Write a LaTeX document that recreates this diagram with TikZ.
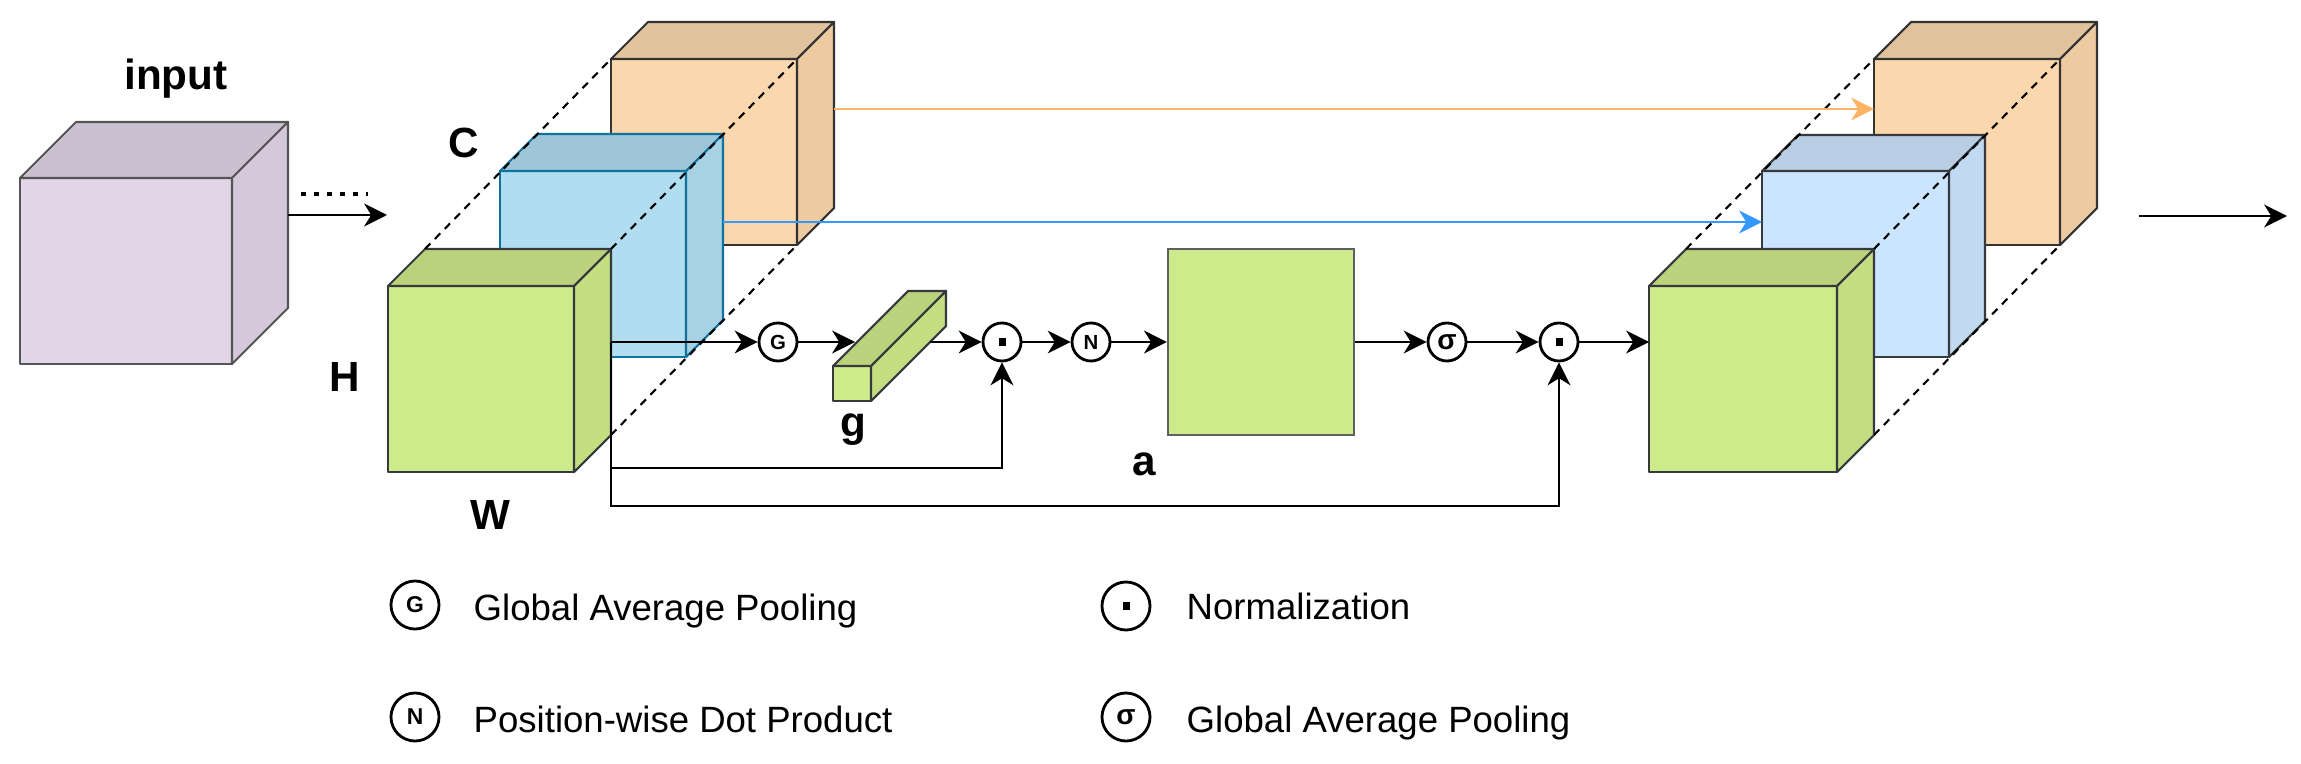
\documentclass[tikz,border=0pt]{standalone}
\usepackage{fontspec}
\setmainfont{Liberation Sans}
\usetikzlibrary{arrows.meta}
\definecolor{purF}{HTML}{E1D5E7}
\definecolor{purT}{HTML}{CBC0D1}
\definecolor{purS}{HTML}{D5C8DB}
\definecolor{purD}{HTML}{555555}
\definecolor{grF}{HTML}{CDEB8B}
\definecolor{grT}{HTML}{BAD27C}
\definecolor{grS}{HTML}{C2DE80}
\definecolor{grD}{HTML}{36393D}
\definecolor{bluF}{HTML}{B1DDF0}
\definecolor{bluT}{HTML}{9EC6D8}
\definecolor{bluS}{HTML}{A8D1E4}
\definecolor{bluD}{HTML}{10739E}
\definecolor{orF}{HTML}{FAD7AC}
\definecolor{orT}{HTML}{E0C29C}
\definecolor{orS}{HTML}{EDCA9F}
\definecolor{orD}{HTML}{333333}
\definecolor{lbF}{HTML}{CCE5FF}
\definecolor{lbT}{HTML}{B8CEE5}
\definecolor{lbS}{HTML}{C1D9F1}
\definecolor{orArr}{HTML}{FFB366}
\definecolor{blArr}{HTML}{3399FF}

\begin{document}
\begin{tikzpicture}[x=0.01cm,y=-0.01cm]
   \useasboundingbox (0,0) rectangle (2301,764);

    \tikzstyle{op}=[draw,circle,line width=0.8pt,minimum size=0.38cm,inner sep=0pt,font=\bfseries\fontsize{5.8}{6}\selectfont]
    \tikzstyle{keyop}=[op,minimum size=0.48cm,font=\bfseries\fontsize{6.5}{7}\selectfont]
    \tikzstyle{arr}=[line width=0.65pt,-{Stealth[length=6.5pt,width=6.5pt,inset=2pt]}]
    \tikzstyle{lbl}=[inner sep=0pt,font=\bfseries\fontsize{12}{14}\selectfont]
    \tikzstyle{keytext}=[inner sep=0pt,anchor=base west,font=\fontsize{10.4}{12}\selectfont]
    \tikzstyle{guide}=[line width=0.6pt,dash pattern=on 2.2pt off 1.8pt]

    % front top-left x, y, width, height, depth, front, top, side, line
    \def\cube#1#2#3#4#5#6#7#8#9{
      \filldraw[fill=#6,draw=#9,line width=0.6pt,line join=round] (#1,#2) rectangle ({#1+#3},{#2+#4});
      \filldraw[fill=#7,draw=#9,line width=0.6pt,line join=round] (#1,#2)--({#1+#5},{#2-#5})--({#1+#3+#5},{#2-#5})--({#1+#3},#2)--cycle;
      \filldraw[fill=#8,draw=#9,line width=0.6pt,line join=round] ({#1+#3},#2)--({#1+#3+#5},{#2-#5})--({#1+#3+#5},{#2+#4-#5})--({#1+#3},{#2+#4})--cycle;
    }

    % input
    \cube{20}{178}{212}{186}{56}{purF}{purT}{purS}{purD}
    \node[lbl,anchor=base](inp) at (176,90){input};

    % left stack
    \cube{611}{59}{186}{186}{37}{orF}{orT}{orS}{orD}
    \cube{500}{171}{186}{186}{37}{bluF}{bluT}{bluS}{bluD}
    \cube{388}{286}{186}{186}{37}{grF}{grT}{grS}{grD}
    \draw[guide](425,249)--(611,59);
    \draw[guide](611,249)--(797,59);
    \draw[guide](611,435)--(797,245);
    \node[lbl](C) at (464,143){C};
    \node[lbl](H) at (345,377){H};
    \node[lbl](W) at (490,515){W};

    % right stack
    \cube{1874}{59}{186}{186}{37}{orF}{orT}{orS}{orD}
    \cube{1762}{171}{187}{186}{36}{lbF}{lbT}{lbS}{grD}
    \cube{1649}{286}{188}{186}{37}{grF}{grT}{grS}{grD}
    \draw[guide](1686,249)--(1874,59);
    \draw[guide](1874,249)--(2060,59);
    \draw[guide](1874,435)--(2060,245);

    % g and a
    \cube{833}{366}{38}{35}{75}{grF}{grT}{grS}{grD}
    \node[lbl](g) at (853,430){g};
    \node[draw=grD!80,fill=grF,line width=0.6pt,minimum size=1.86cm,inner sep=0pt](a) at (1261,342){};
    \node[lbl](alab) at (1144,464){a};

    % operators
    \node[op](G) at (778,342){G};
    \node[op](d1) at (1002,342){\rule{2pt}{2pt}};
    \node[op](N) at (1091,342){N};
    \node[op,font=\bfseries\fontsize{8}{8}\selectfont](s) at (1447,342){σ};
    \node[op](d2) at (1559,342){\rule{2pt}{2pt}};

    \coordinate(inout) at (288,215);
    \coordinate(inend) at (387,215);
    \coordinate(dots1) at (301,194);
    \coordinate(dots2) at (368,194);
    \coordinate(gout) at (611,342);
    \coordinate(gin) at (855,342);
    \coordinate(gbout) at (930,342);
    \coordinate(rin) at (1649,342);
    \coordinate(oout) at (834,109);
    \coordinate(oin) at (1874,109);
    \coordinate(bout) at (723,222);
    \coordinate(bin) at (1762,222);
    \coordinate(fout) at (2139,216);
    \coordinate(fend) at (2287,216);

    \draw[arr](inout)--(inend);
    \draw[line width=1.1pt,dash pattern=on 1.3pt off 2.4pt](dots1)--(dots2);
    \draw[arr](gout)--(G);
    \draw[arr](G)--(gin);
    \draw[arr](gbout)--(d1);
    \draw[arr](d1)--(N);
    \draw[arr](N)--(a);
    \draw[arr](a)--(s);
    \draw[arr](s)--(d2);
    \draw[arr](d2)--(rin);
    \draw[arr](gout)--++(0,126)-|(d1);
    \draw[arr](gout)--++(0,164)-|(d2);
    \draw[arr,draw=orArr,-{Stealth[length=6.5pt,width=6.5pt,inset=2pt,fill=orArr]}](oout)--(oin);
    \draw[arr,draw=blArr,-{Stealth[length=6.5pt,width=6.5pt,inset=2pt,fill=blArr]}](bout)--(bin);
    \draw[arr,line width=0.8pt](fout)--(fend);

    % legend
    \node[keyop](kG) at (415,605){G};
    \node[keytext](kGt) at (473,620){Global Average Pooling};
    \node[keyop](kN) at (415,717){N};
    \node[keytext](kNt) at (473,732){Position-wise Dot Product};
    \node[keyop](kd) at (1126,606){\rule{2pt}{2pt}};
    \node[keytext](kdt) at (1186,619){Normalization};
    \node[keyop,font=\bfseries\fontsize{8}{8}\selectfont](ks) at (1126,717){σ};
    \node[keytext](kst) at (1186,732){Global Average Pooling};

  \end{tikzpicture}
\end{document}
